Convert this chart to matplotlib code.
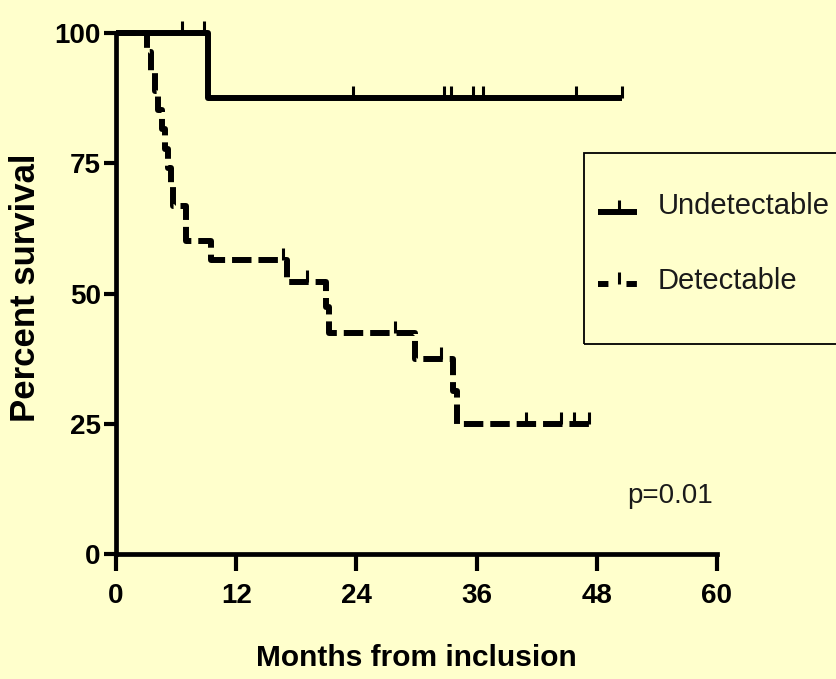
import numpy as np
import matplotlib
matplotlib.use('Agg')
import matplotlib.pyplot as plt
from matplotlib.path import Path
from matplotlib.lines import Line2D
from matplotlib.patches import Rectangle

plt.rcParams['lines.scale_dashes'] = False

# ---------------- data ----------------
groups = ['Undetectable', 'Detectable']

undet_times = [0, 9.2]
undet_surv = [100, 87.5]
undet_end = 50.5
undet_cens_t = [6.6, 8.8, 23.7, 32.7, 33.4, 35.6, 36.6, 45.9, 50.5]

det_times = [0, 3.1, 3.5, 3.9, 4.2, 4.6, 4.9, 5.2, 5.5, 5.7, 7.0, 9.5,
             17.1, 21.0, 21.3, 29.9, 33.6, 34.0]
det_surv = [100, 96.3, 92.6, 88.9, 85.2, 81.5, 77.8, 74.1, 70.4, 66.7, 60.0,
            56.5, 52.3, 47.4, 42.5, 37.5, 31.2, 25.0]
det_end = 47.2
det_cens_t = [16.7, 19.1, 27.9, 32.4, 40.9, 44.4, 45.7, 47.2]

x_ticks = [0, 12, 24, 36, 48, 60]
y_ticks = [0, 25, 50, 75, 100]
x_label = 'Months from inclusion'
y_label = 'Percent survival'
p_text = 'p=0.01'

# ---------------- style ----------------
BG = '#FFFFCC'
FAM = ['Liberation Sans', 'DejaVu Sans']
LW = 4.3
DASH = (0, (14, 5))
tick_marker = Path([(0, 0), (0, 1)], [Path.MOVETO, Path.LINETO])

W, H = 836, 679
fig = plt.figure(figsize=(W / 100, H / 100), dpi=100, facecolor=BG)
ax = fig.add_axes([116 / W, 1 - 554 / H, (717 - 116) / W, (554 - 33) / H])
ax.set_facecolor(BG)


def censor_levels(times, surv, cens):
    idx = np.searchsorted(np.array(times), np.array(cens), side='right') - 1
    return np.array(surv)[idx]


def draw_curve(times, surv, end, cens, ls):
    xs = list(times) + [end]
    ys = list(surv) + [surv[-1]]
    ax.step(xs, ys, where='post', color='black', lw=LW, linestyle=ls,
            clip_on=False, solid_capstyle='butt', dash_capstyle='butt')
    cy = censor_levels(times, surv, cens)
    ax.plot(cens, cy, linestyle='none', marker=tick_marker, markersize=17,
            markeredgewidth=2.2, color='black', clip_on=False)


draw_curve(undet_times, undet_surv, undet_end, undet_cens_t, '-')
draw_curve(det_times, det_surv, det_end, det_cens_t, DASH)

ax.set_xlim(0, 60)
ax.set_ylim(0, 100)
ax.set_xticks(x_ticks)
ax.set_yticks(y_ticks)

for s in ['top', 'right']:
    ax.spines[s].set_visible(False)
for s in ['left', 'bottom']:
    ax.spines[s].set_linewidth(3.4)
ax.tick_params(axis='x', length=12, width=3, pad=9, direction='out')
ax.tick_params(axis='y', length=9, width=3, pad=2, direction='out')
for lab in ax.get_xticklabels() + ax.get_yticklabels():
    lab.set_fontfamily(FAM)
    lab.set_fontweight('bold')
    lab.set_fontsize(20)

ax.set_xlabel(x_label, fontfamily=FAM, fontweight='bold', fontsize=21.5)
ax.xaxis.set_label_coords((416 - 116) / 601, (554 - 644) / 521)
ax.set_ylabel(y_label, fontfamily=FAM, fontweight='bold', fontsize=25)
ax.yaxis.set_label_coords((42 - 116) / 601, (554 - 288) / 521)

fig.text(670 / W, 1 - 496 / H, p_text, fontfamily=FAM, fontsize=20,
         ha='center', va='center', color='#1a1a1a')

# ---------------- legend (manual) ----------------
fx = lambda px: px / W
fy = lambda py: 1 - py / H
fig.add_artist(Rectangle((fx(584), fy(344)), fx(900) - fx(584), fy(153) - fy(344),
                         transform=fig.transFigure, facecolor='none',
                         edgecolor='black', lw=1.3, clip_on=False))
leg_y = [212, 284]
leg_text_y = [206, 281]
styles = ['-', (0, (7.5, 13))]
for g, ly, ty, st in zip(groups, leg_y, leg_text_y, styles):
    ln = Line2D([fx(598), fx(637)], [fy(ly), fy(ly)], transform=fig.transFigure,
                color='black', lw=LW, linestyle=st,
                solid_capstyle='butt', dash_capstyle='butt')
    fig.add_artist(ln)
    mk = Line2D([fx(619)], [fy(ly)], transform=fig.transFigure, linestyle='none',
                marker=tick_marker, markersize=17, markeredgewidth=2.2,
                color='black')
    fig.add_artist(mk)
    fig.text(fx(658), fy(ty), g, fontfamily=FAM, fontsize=21,
             ha='left', va='center', color='#1a1a1a')

fig.savefig('out.png', dpi=100, facecolor=BG)
